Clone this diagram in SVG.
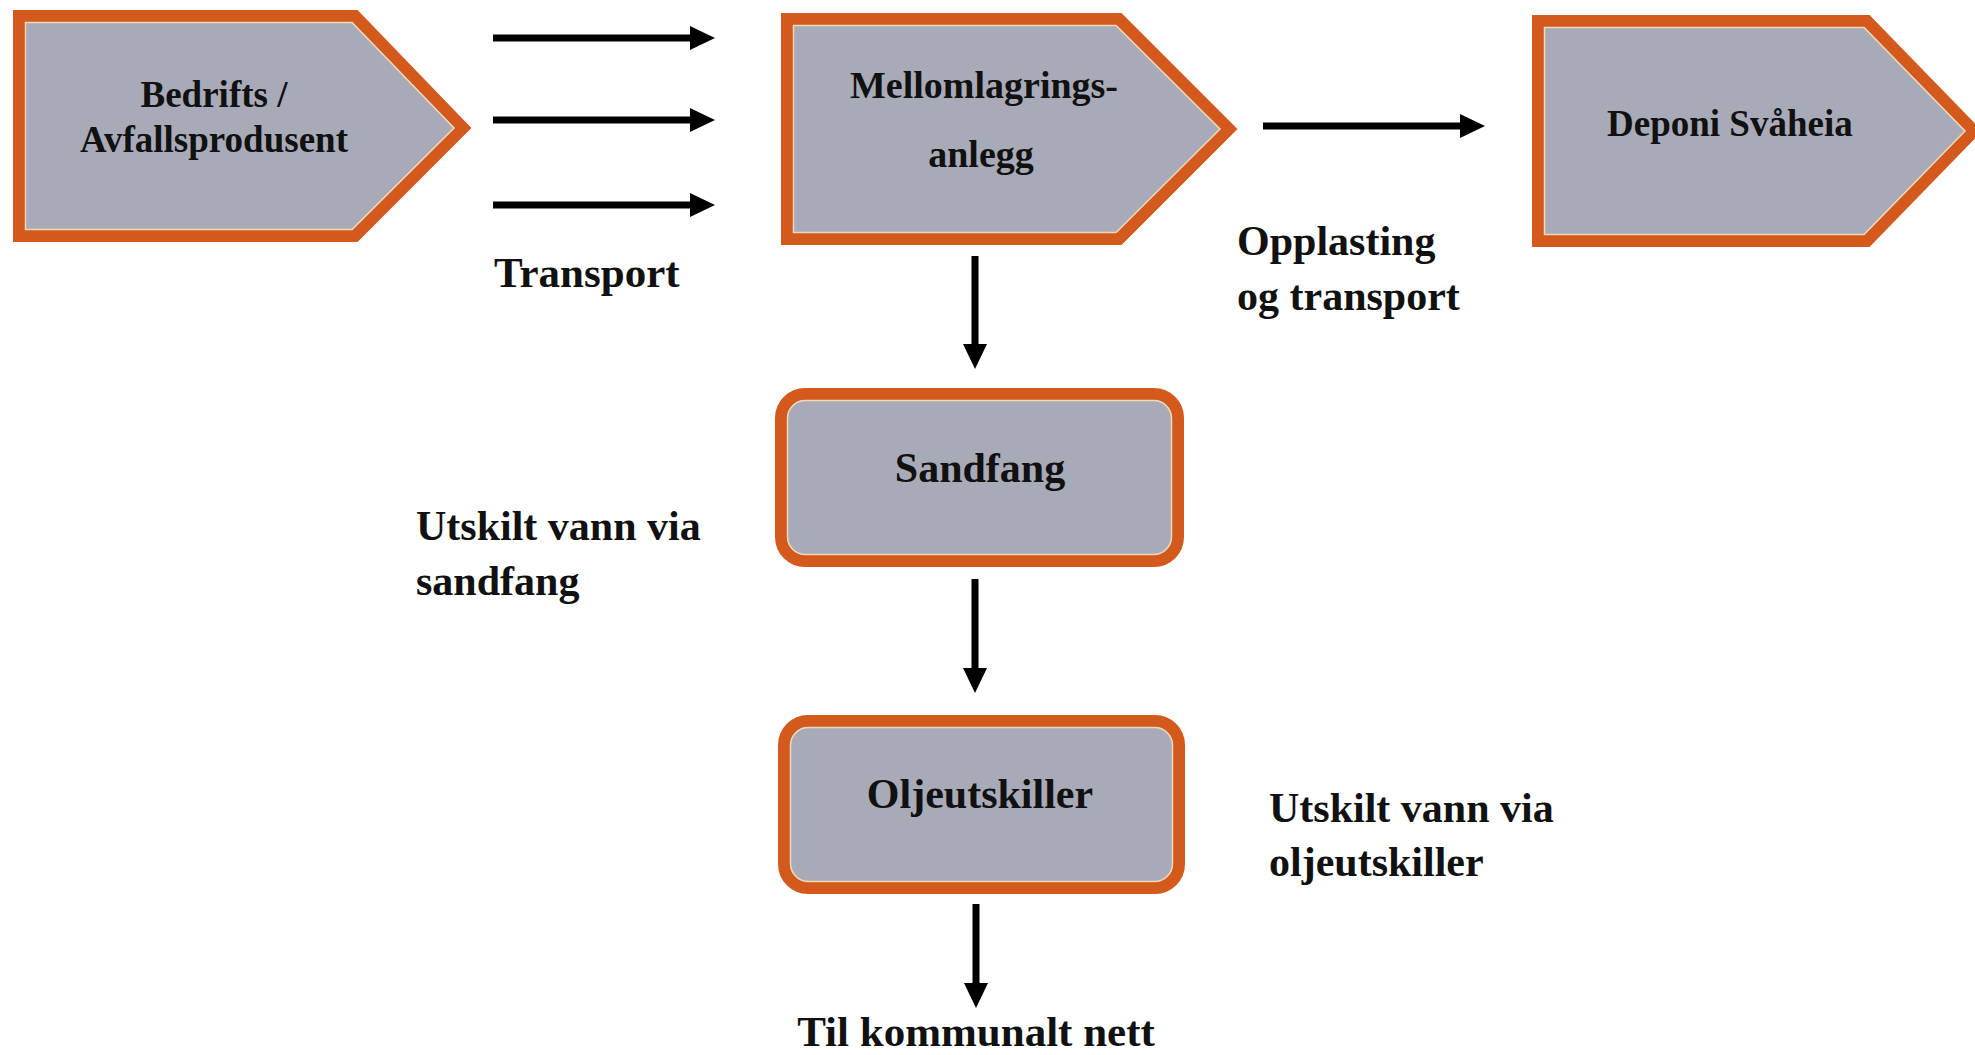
<svg xmlns="http://www.w3.org/2000/svg" width="1975" height="1055" viewBox="0 0 1975 1055">
<style>
.box{fill:#a8aab8;stroke:#d3591d;stroke-width:12;stroke-linejoin:miter}
.inner{fill:none;stroke:#efd9b8;stroke-width:1.5}
.t{font-family:"Liberation Serif","Times New Roman",serif;font-weight:bold;fill:#111}
.c{stroke:#000;stroke-width:7;fill:none}
</style>
<defs>
<marker id="ah" viewBox="0 0 25 24" refX="5" refY="12" markerWidth="25" markerHeight="24" markerUnits="userSpaceOnUse" orient="auto">
<path d="M0,0 L25,12 L0,24 Z" fill="#000"/>
</marker>
</defs>
<rect width="1975" height="1055" fill="#ffffff"/>
<g id="node-bedrifts">
<path class="box" d="M19,16 L355,16 L463,128 L355,236 L19,236 Z"/>
<path class="inner" d="M25.5,22.5 L352,22.5 L454,128 L352,229.5 L25.5,229.5 Z"/>
<text class="t" x="214" y="107" font-size="37" text-anchor="middle">Bedrifts /</text>
<text class="t" x="214" y="152" font-size="37" text-anchor="middle">Avfallsprodusent</text>
</g>
<g id="node-mellomlagring">
<path class="box" d="M787,19 L1119,19 L1229,129 L1119,239 L787,239 Z"/>
<path class="inner" d="M793.5,25.5 L1116,25.5 L1220,129 L1116,232.5 L793.5,232.5 Z"/>
<text class="t" x="984" y="98" font-size="38" text-anchor="middle">Mellomlagrings-</text>
<text class="t" x="981" y="167" font-size="38" text-anchor="middle">anlegg</text>
</g>
<g id="node-deponi">
<path class="box" d="M1538,21 L1867,21 L1974,131 L1867,241 L1538,241 Z"/>
<path class="inner" d="M1544.5,27.5 L1864,27.5 L1965,131 L1864,234.5 L1544.5,234.5 Z"/>
<text class="t" x="1607" y="136" font-size="37">Deponi Svåheia</text>
</g>
<g id="node-sandfang">
<rect class="box" x="781" y="394" width="397" height="167" rx="24"/>
<rect class="inner" x="787.5" y="400.5" width="384" height="154" rx="18"/>
<text class="t" x="980" y="482" font-size="42" text-anchor="middle">Sandfang</text>
</g>
<g id="node-oljeutskiller">
<rect class="box" x="784" y="721" width="395" height="167" rx="24"/>
<rect class="inner" x="790.5" y="727.5" width="382" height="154" rx="18"/>
<text class="t" x="980" y="808" font-size="42" text-anchor="middle">Oljeutskiller</text>
</g>
<g id="connectors">
<line class="c" x1="493" y1="38" x2="695" y2="38" marker-end="url(#ah)"/>
<line class="c" x1="493" y1="120" x2="695" y2="120" marker-end="url(#ah)"/>
<line class="c" x1="493" y1="205" x2="695" y2="205" marker-end="url(#ah)"/>
<line class="c" x1="1263" y1="126" x2="1465" y2="126" marker-end="url(#ah)"/>
<line class="c" x1="975" y1="256" x2="975" y2="349" marker-end="url(#ah)"/>
<line class="c" x1="975" y1="579" x2="975" y2="673" marker-end="url(#ah)"/>
<line class="c" x1="976" y1="904" x2="976" y2="988" marker-end="url(#ah)"/>
</g>
<g id="labels">
<text class="t" x="494" y="287" font-size="43">Transport</text>
<text class="t" x="1237" y="255" font-size="42">Opplasting</text>
<text class="t" x="1237" y="310" font-size="42">og transport</text>
<text class="t" x="416" y="540" font-size="42">Utskilt vann via</text>
<text class="t" x="416" y="595" font-size="42">sandfang</text>
<text class="t" x="1269" y="822" font-size="42">Utskilt vann via</text>
<text class="t" x="1269" y="876" font-size="42">oljeutskiller</text>
<text class="t" x="976" y="1046" font-size="43" text-anchor="middle">Til kommunalt nett</text>
</g>
</svg>
